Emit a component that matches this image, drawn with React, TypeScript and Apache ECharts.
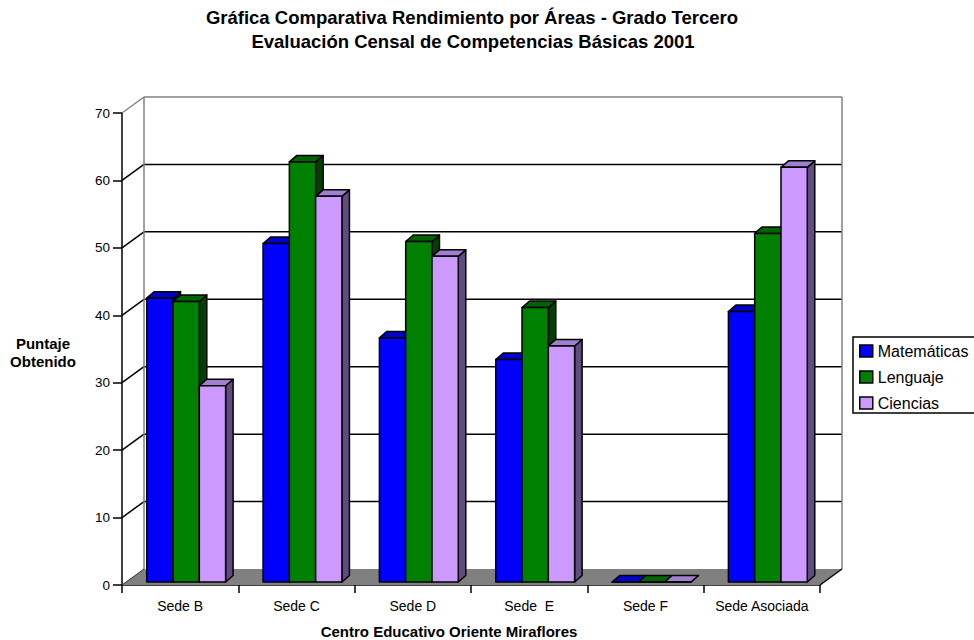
import React, { useEffect, useRef } from "react";
import * as echarts from "echarts";

const categories = ["Sede B", "Sede C", "Sede D", "Sede  E", "Sede F", "Sede Asociada"];
const seriesNames = ["Matemáticas", "Lenguaje", "Ciencias"];
const matematicas = [42.1, 50.2, 36.2, 33.0, 0, 40.1];
const lenguaje = [41.6, 62.3, 50.5, 40.7, 0, 51.7];
const ciencias = [29.1, 57.2, 48.3, 35.0, 0, 61.5];
const yTicks = [0, 10, 20, 30, 40, 50, 60, 70];

const FONT = "'Liberation Sans', Arial, sans-serif";
const FRONT = ["#0000FF", "#008000", "#CC99FF"];
const TOP = ["#0000CC", "#006400", "#A07FD0"];
const SIDE = ["#000080", "#004000", "#604C80"];

// depth projection of the whole floor / wall
const DX = 22;
const DY = -16;
// bar plane offset and bar depth
const BOX = 6;
const BOY = -3;
const BDX = 7.5;
const BDY = -6.5;

export default function App() {
  const ref = useRef<HTMLDivElement>(null);
  useEffect(() => {
    if (!ref.current) return;
    const chart = echarts.init(ref.current, null, { renderer: "svg" });
    const allSeries = [matematicas, lenguaje, ciencias];

    const frameSeries: any = {
      type: "custom",
      name: "frame",
      silent: true,
      z: 1,
      data: [[0, 0]],
      encode: { x: 0, y: 1 },
      renderItem: (params: any, api: any) => {
        const cs = params.coordSys;
        const L = cs.x;
        const R = cs.x + cs.width;
        const y0 = api.coord([0, 0])[1];
        const yTop = api.coord([0, 70])[1];
        const children: any[] = [];
        children.push({
          type: "polygon",
          shape: { points: [[L, y0], [R, y0], [R + DX, y0 + DY], [L + DX, y0 + DY]] },
          style: { fill: "#808080", stroke: null },
        });
        yTicks.forEach((v) => {
          if (v === 0 || v === 70) return;
          const y = api.coord([0, v])[1];
          children.push({
            type: "line",
            shape: { x1: L + DX, y1: y + DY, x2: R + DX, y2: y + DY },
            style: { stroke: "#000", lineWidth: 1.5 },
          });
          children.push({
            type: "line",
            shape: { x1: L, y1: y, x2: L + DX, y2: y + DY },
            style: { stroke: "#000", lineWidth: 1.5 },
          });
        });
        const gray = { stroke: "#808080", lineWidth: 1.5 };
        children.push({ type: "line", shape: { x1: L + DX, y1: yTop + DY, x2: L + DX, y2: y0 + DY }, style: gray });
        children.push({ type: "line", shape: { x1: L + DX, y1: yTop + DY, x2: R + DX, y2: yTop + DY }, style: gray });
        children.push({ type: "line", shape: { x1: R + DX, y1: yTop + DY, x2: R + DX, y2: y0 + DY }, style: gray });
        children.push({ type: "line", shape: { x1: L, y1: yTop, x2: L + DX, y2: yTop + DY }, style: gray });
        children.push({
          type: "line",
          shape: { x1: R, y1: y0, x2: R + DX, y2: y0 + DY },
          style: { stroke: "#000", lineWidth: 1.5 },
        });
        children.push({
          type: "line",
          shape: { x1: L, y1: y0, x2: L + DX, y2: y0 + DY },
          style: { stroke: "#333", lineWidth: 1 },
        });
        return { type: "group", children };
      },
    };

    const barSeries = allSeries.map((arr, si) => ({
      type: "custom",
      name: seriesNames[si],
      z: 3,
      itemStyle: { color: FRONT[si], borderColor: "#000", borderWidth: 1.5 },
      data: arr.map((v, i) => [i, v]),
      encode: { x: 0, y: 1 },
      renderItem: (params: any, api: any) => {
        const ci = api.value(0);
        const val = api.value(1);
        const base = api.coord([ci, 0]);
        const top = api.coord([ci, val]);
        const band = api.size([1, 0])[0];
        const bw = band * 0.226;
        const x0 = base[0] - 1.5 * bw + si * bw + BOX;
        const x1 = x0 + bw;
        const by = base[1] + BOY;
        const ty = top[1] + BOY;
        const stroke = { stroke: "#000", lineWidth: 1.5, lineJoin: "round" };
        return {
          type: "group",
          children: [
            {
              type: "polygon",
              shape: { points: [[x1, ty], [x1 + BDX, ty + BDY], [x1 + BDX, by + BDY], [x1, by]] },
              style: { fill: SIDE[si], ...stroke },
            },
            {
              type: "polygon",
              shape: { points: [[x0, ty], [x1, ty], [x1 + BDX, ty + BDY], [x0 + BDX, ty + BDY]] },
              style: { fill: TOP[si], ...stroke },
            },
            {
              type: "rect",
              shape: { x: x0, y: ty, width: bw, height: by - ty },
              style: { fill: FRONT[si], ...stroke },
            },
          ],
        };
      },
    }));

    chart.setOption({
      animation: false,
      backgroundColor: "#fff",
      textStyle: { fontFamily: FONT },
      grid: { left: 122, right: 154, top: 113, bottom: 55, containLabel: false },
      legend: {
        orient: "vertical",
        left: 853,
        top: 337,
        padding: [6, 4, 3, 6],
        itemWidth: 13,
        itemHeight: 12,
        itemGap: 10,
        icon: "rect",
        textStyle: { fontFamily: FONT, fontSize: 16, color: "#000" },
        data: seriesNames.map((n, i) => ({
          name: n,
          itemStyle: { color: FRONT[i], borderColor: "#000", borderWidth: 1.5 },
        })),
      },
      xAxis: {
        type: "category",
        data: categories,
        axisLine: { lineStyle: { color: "#000", width: 1.5 } },
        axisTick: { show: true, interval: 0, length: 8, lineStyle: { color: "#000", width: 1.5 } },
        axisLabel: { color: "#000", fontSize: 14, fontFamily: FONT, margin: 14, interval: 0 },
        splitLine: { show: false },
      },
      yAxis: {
        type: "value",
        min: 0,
        max: 70,
        interval: 10,
        axisLine: { show: true, lineStyle: { color: "#000", width: 1.5 } },
        axisTick: { show: true, length: 9, lineStyle: { color: "#000", width: 1.5 } },
        axisLabel: { color: "#000", fontSize: 13.5, fontFamily: FONT, margin: 12 },
        splitLine: { show: false },
      },
      graphic: [
        {
          type: "rect",
          shape: { x: 853, y: 337, width: 140, height: 76 },
          style: { fill: "transparent", stroke: "#000", lineWidth: 1.5 },
          silent: true,
        },
        {
          type: "text",
          style: {
            x: 472,
            y: 8,
            text: "Gráfica Comparativa Rendimiento por Áreas - Grado Tercero",
            textAlign: "center",
            font: `bold 18.5px ${FONT}`,
            fill: "#000",
          },
        },
        {
          type: "text",
          style: {
            x: 473,
            y: 32,
            text: "Evaluación Censal de Competencias Básicas 2001",
            textAlign: "center",
            font: `bold 18.5px ${FONT}`,
            fill: "#000",
          },
        },
        {
          type: "text",
          style: {
            x: 43,
            y: 336,
            text: "Puntaje",
            textAlign: "center",
            font: `bold 15px ${FONT}`,
            fill: "#000",
          },
        },
        {
          type: "text",
          style: {
            x: 43,
            y: 354,
            text: "Obtenido",
            textAlign: "center",
            font: `bold 15px ${FONT}`,
            fill: "#000",
          },
        },
        {
          type: "text",
          style: {
            x: 449,
            y: 624,
            text: "Centro Educativo Oriente Miraflores",
            textAlign: "center",
            font: `bold 15px ${FONT}`,
            fill: "#000",
          },
        },
      ],
      series: [frameSeries, ...barSeries],
    });
    return () => chart.dispose();
  }, []);
  return (
    <div
      ref={ref}
      style={{ position: "fixed", left: 0, top: 0, width: 974, height: 640, background: "#fff" }}
    />
  );
}
